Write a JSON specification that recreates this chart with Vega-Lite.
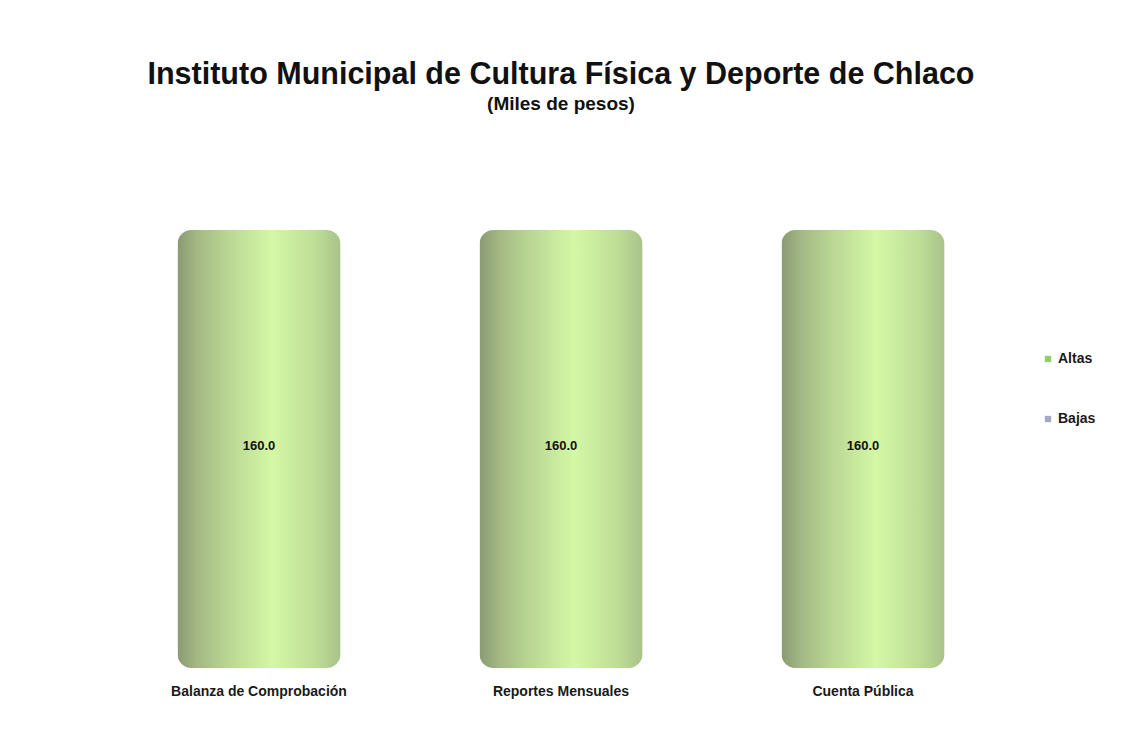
{
  "$schema": "https://vega.github.io/schema/vega-lite/v6.json",
  "autosize": {"type": "none"},
  "width": 906,
  "height": 438,
  "padding": {"left": 108, "top": 230, "right": 114, "bottom": 83},
  "background": "white",
  "title": {
    "text": "Instituto Municipal de Cultura Física y Deporte de Chlaco",
    "subtitle": "(Miles de pesos)",
    "anchor": "middle",
    "font": "Liberation Sans",
    "fontSize": 30.5,
    "fontWeight": "bold",
    "color": "#111111",
    "subtitleFont": "Liberation Sans",
    "subtitleFontSize": 19,
    "subtitleFontWeight": "bold",
    "subtitleColor": "#111111",
    "subtitlePadding": 4,
    "offset": 116
  },
  "data": {
    "values": [
      {"categoria": "Balanza de Comprobación", "serie": "Altas", "valor": 160.0},
      {"categoria": "Reportes Mensuales", "serie": "Altas", "valor": 160.0},
      {"categoria": "Cuenta Pública", "serie": "Altas", "valor": 160.0}
    ]
  },
  "encoding": {
    "x": {
      "field": "categoria",
      "type": "nominal",
      "sort": null,
      "scale": {"paddingInner": 0.46, "paddingOuter": 0.23},
      "axis": {
        "title": null,
        "domain": false,
        "ticks": false,
        "labelAngle": 0,
        "labelPadding": 16,
        "labelFont": "Liberation Sans",
        "labelFontSize": 14,
        "labelFontWeight": "bold",
        "labelColor": "#1a1a1a"
      }
    },
    "y": {
      "field": "valor",
      "type": "quantitative",
      "scale": {"domain": [0, 160], "nice": false},
      "axis": null
    }
  },
  "layer": [
    {
      "mark": {
        "type": "bar",
        "cornerRadius": 14,
        "fill": {
          "gradient": "linear",
          "x1": 0, "y1": 0, "x2": 1, "y2": 0,
          "stops": [
            {"offset": 0, "color": "#8a9a72"},
            {"offset": 0.12, "color": "#a3b884"},
            {"offset": 0.3, "color": "#b8d592"},
            {"offset": 0.58, "color": "#d4f8a6"},
            {"offset": 0.85, "color": "#bddd96"},
            {"offset": 1, "color": "#a9c28a"}
          ]
        }
      }
    },
    {
      "mark": {"type": "square", "opacity": 0, "size": 1},
      "encoding": {
        "color": {
          "field": "serie",
          "type": "nominal",
          "scale": {"domain": ["Altas", "Bajas"], "range": ["#8fcf6a", "#a6a6c6"]},
          "legend": {
            "title": null,
            "orient": "none",
            "legendX": 933,
            "legendY": 122,
            "symbolType": "square",
            "symbolSize": 40,
            "symbolOpacity": 1,
            "symbolStrokeWidth": 0,
            "rowPadding": 46,
            "labelFont": "Liberation Sans",
            "labelFontSize": 14,
            "labelFontWeight": "bold",
            "labelColor": "#1a1a1a",
            "labelOffset": 3
          }
        }
      }
    },
    {
      "mark": {
        "type": "text",
        "font": "Liberation Sans",
        "fontSize": 13,
        "fontWeight": "bold",
        "color": "#111111"
      },
      "encoding": {
        "y": {"datum": 81},
        "text": {"field": "valor", "type": "quantitative", "format": ".1f"}
      }
    }
  ],
  "config": {"view": {"stroke": null}}
}
